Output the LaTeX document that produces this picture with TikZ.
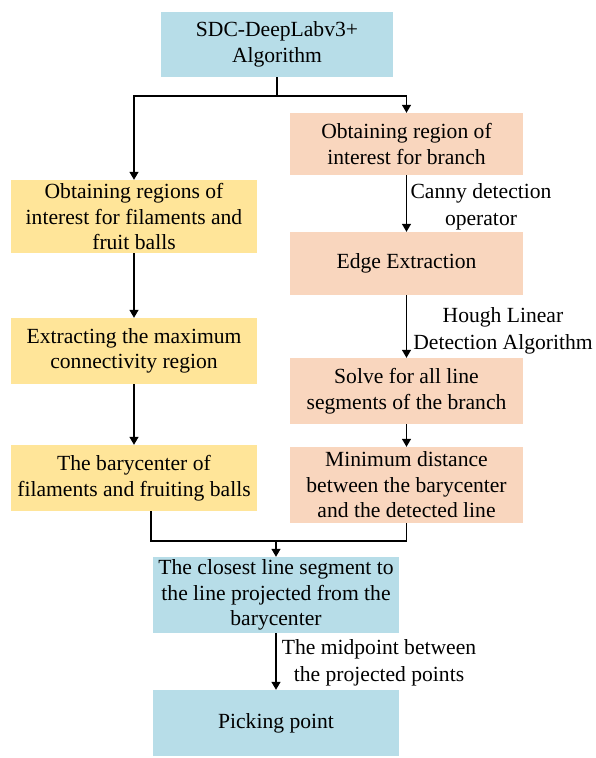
\documentclass[tikz,border=0pt]{standalone}
\usepackage{fontspec}
\setmainfont{Liberation Serif}
\usetikzlibrary{arrows.meta}
\definecolor{boxblue}{RGB}{183,221,232}
\definecolor{boxorange}{RGB}{249,214,190}
\definecolor{boxyellow}{RGB}{255,229,153}
\tikzset{
  box/.style={draw=none, inner sep=0pt, align=center, font=\fontsize{21.6}{25.5}\selectfont},
  bluebox/.style={box, fill=boxblue},
  orangebox/.style={box, fill=boxorange, minimum width=233pt},
  yellowbox/.style={box, fill=boxyellow, minimum width=246pt},
  conn/.style={line width=1.3pt, draw=black},
  arr/.style={conn, -{Triangle[length=8pt,width=9pt]}},
  lbl/.style={inner sep=0pt, align=center, font=\fontsize{21.6}{27}\selectfont}
}
\begin{document}
\begin{tikzpicture}[x=1pt,y=-1pt]
\useasboundingbox (0,0) rectangle (595,758);
% boxes
\node[bluebox, minimum width=232pt, minimum height=65pt] (top) at (277,44.5) {SDC-DeepLabv3+\\Algorithm};
\node[orangebox, minimum height=62pt] (R1) at (406.5,144) {Obtaining region of\\interest for branch};
\node[orangebox, minimum height=63pt] (R2) at (406.5,263.5) {Edge Extraction};
\node[orangebox, minimum height=66pt] (R3) at (406.5,391) {Solve for all line\\segments of the branch};
\node[orangebox, minimum height=76pt] (R4) at (406.5,485) {Minimum distance\\between the barycenter\\and the detected line};
\node[yellowbox, minimum height=73pt] (L1) at (134,216.5) {Obtaining regions of\\interest for filaments and\\fruit balls};
\node[yellowbox, minimum height=66pt] (L2) at (134,351) {Extracting the maximum\\connectivity region};
\node[yellowbox, minimum height=66pt] (L3) at (134,478) {The barycenter of\\filaments and fruiting balls};
\node[bluebox, minimum width=246pt, minimum height=76pt] (B1) at (276,595) {The closest line segment to\\the line projected from the\\barycenter};
\node[bluebox, minimum width=246pt, minimum height=66pt] (B2) at (276,723) {Picking point};
% labels
\node[lbl] (canny) at (481,207) {Canny detection\\operator};
\node[lbl] (hough) at (503,331) {Hough Linear\\Detection Algorithm};
\node[lbl] (mid) at (379,663) {The midpoint between\\the projected points};
% connectors
\coordinate (split) at (277,96);
\coordinate (merge) at (276,541);
\draw[conn] (top.south) -- (split);
\draw[arr] (split) -| (L1.north);
\draw[arr] (split) -| (R1.north);
\draw[arr] (L1) -- (L2);
\draw[arr] (L2) -- (L3);
\draw[arr] (R1) -- (R2);
\draw[arr] (R2) -- (R3);
\draw[arr] (R3) -- (R4);
\draw[conn] ([xshift=17pt]L3.south) |- (merge) -| (R4.south);
\draw[arr] (merge) -- (B1.north);
\draw[arr] (B1) -- (B2);
\end{tikzpicture}
\end{document}
